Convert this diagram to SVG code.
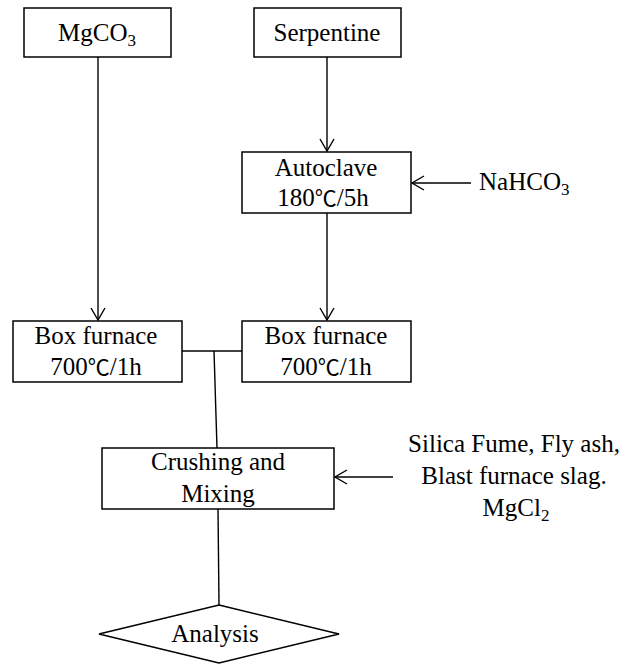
<svg xmlns="http://www.w3.org/2000/svg" width="632" height="664" viewBox="0 0 632 664">
<defs>
<style>
.box{fill:#fff;stroke:#000;stroke-width:1.5}
.ln{fill:none;stroke:#000;stroke-width:1.4}
</style>
<marker id="ah" viewBox="0 0 14 16" refX="13" refY="8" markerWidth="14" markerHeight="16" markerUnits="userSpaceOnUse" orient="auto">
<path d="M1,1 L13,8 L1,15" fill="none" stroke="#000" stroke-width="1.4"/>
</marker>
</defs>
<rect width="632" height="664" fill="#fff"/>
<g id="connectors">
<line class="ln" x1="98" y1="57" x2="98" y2="320" marker-end="url(#ah)"/>
<line class="ln" x1="327" y1="57" x2="327" y2="151" marker-end="url(#ah)"/>
<line class="ln" x1="327" y1="213" x2="327" y2="320" marker-end="url(#ah)"/>
<line class="ln" x1="471" y1="183" x2="412" y2="183" marker-end="url(#ah)"/>
<polyline class="ln" points="182,351 242,351"/>
<line class="ln" x1="214" y1="351" x2="217" y2="448"/>
<line class="ln" x1="218" y1="509" x2="219" y2="605"/>
<line class="ln" x1="393" y1="477" x2="335" y2="477" marker-end="url(#ah)"/>
</g>
<g font-family="Liberation Serif, serif" font-size="25" fill="#000" text-anchor="middle">
<g id="mgco3">
<rect class="box" x="24" y="8" width="147" height="49"/>
<text x="97" y="41">MgCO<tspan font-size="17" dy="5">3</tspan></text>
</g>
<g id="serpentine">
<rect class="box" x="254" y="8" width="147" height="49"/>
<text x="327" y="41">Serpentine</text>
</g>
<g id="autoclave">
<rect class="box" x="242" y="152" width="169" height="61"/>
<text x="326" y="176">Autoclave</text>
<text x="323" y="206">180<tspan font-family="Noto Sans CJK SC, sans-serif" font-size="22">℃</tspan>/5h</text>
</g>
<g id="nahco3">
<text x="479" y="190" text-anchor="start">NaHCO<tspan font-size="17" dy="5">3</tspan></text>
</g>
<g id="furnace1">
<rect class="box" x="13" y="321" width="169" height="61"/>
<text x="96" y="344">Box furnace</text>
<text x="96" y="375">700<tspan font-family="Noto Sans CJK SC, sans-serif" font-size="22">℃</tspan>/1h</text>
</g>
<g id="furnace2">
<rect class="box" x="242" y="321" width="169" height="61"/>
<text x="326" y="344">Box furnace</text>
<text x="326" y="375">700<tspan font-family="Noto Sans CJK SC, sans-serif" font-size="22">℃</tspan>/1h</text>
</g>
<g id="crushing">
<rect class="box" x="102" y="448" width="232" height="61"/>
<text x="218" y="470">Crushing and</text>
<text x="218" y="502">Mixing</text>
</g>
<g id="additives">
<text x="514" y="452">Silica Fume, Fly ash,</text>
<text x="514" y="484">Blast furnace slag.</text>
<text x="516" y="516">MgCl<tspan font-size="17" dy="5">2</tspan></text>
</g>
<g id="analysis">
<polygon class="box" points="219,605 339,634 219,663 99,634"/>
<text x="215" y="642">Analysis</text>
</g>
</g>
</svg>
